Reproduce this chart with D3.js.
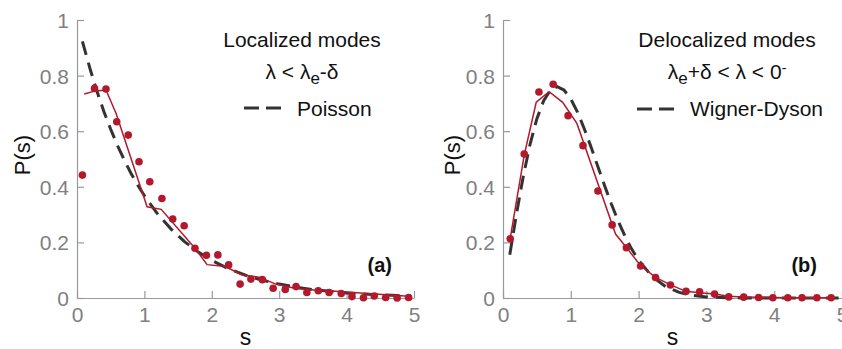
<!DOCTYPE html>
<html>
<head>
<meta charset="utf-8">
<script src="https://cdn.jsdelivr.net/npm/d3@7"></script>
<style>
  body { margin: 0; background: #fff; }
  svg text { font-family: "Liberation Sans", Arial, sans-serif; }
</style>
</head>
<body>
<svg id="chart" width="842" height="349"></svg>
<script>
// ---- data ----
const xTicks = [0, 1, 2, 3, 4, 5];
const yTicks = [0, 0.2, 0.4, 0.6, 0.8, 1];

// (a) localized modes
const locPointS = [0.08, 0.26, 0.43, 0.59, 0.76, 0.92, 1.08, 1.26, 1.42, 1.59, 1.75, 1.92, 2.09, 2.25, 2.42,
  2.58, 2.75, 2.91, 3.09, 3.25, 3.41, 3.58, 3.74, 3.92, 4.08, 4.25, 4.41, 4.58, 4.75, 4.92];
const locPointP = [0.442, 0.754, 0.752, 0.634, 0.586, 0.49, 0.418, 0.358, 0.284, 0.26, 0.179, 0.154, 0.155, 0.119, 0.05,
  0.068, 0.066, 0.035, 0.031, 0.041, 0.02, 0.026, 0.02, 0.016, 0.005, 0.001, 0.007, 0.002, 0, 0.002];
const locLineS = [0.108, 0.27, 0.43, 0.58, 1.04, 1.25, 1.75, 1.93, 2.2, 2.45, 2.7, 2.95, 3.23, 3.56, 3.9, 4.3, 4.7, 4.97];
const locLineP = [0.734, 0.745, 0.748, 0.664, 0.328, 0.319, 0.179, 0.12, 0.113, 0.083, 0.075, 0.05, 0.035, 0.028, 0.023, 0.016, 0.01, 0.005];
const poissonS = [0.08, 0.2, 0.3, 0.4, 0.5, 0.6, 0.7, 0.8, 0.9, 1.0, 1.2, 1.4, 1.6, 1.8, 2.0, 2.25, 2.5, 2.75,
  3.0, 3.25, 3.5, 3.75, 4.0, 4.25, 4.5, 4.75, 4.95];
const poissonP = [0.923, 0.819, 0.741, 0.670, 0.607, 0.549, 0.497, 0.449, 0.407, 0.368, 0.301, 0.247, 0.202, 0.165, 0.135,
  0.105, 0.082, 0.064, 0.050, 0.039, 0.030, 0.024, 0.018, 0.014, 0.011, 0.009, 0.007];

// (b) delocalized modes
const delPointS = [0.107, 0.313, 0.53, 0.74, 0.96, 1.18, 1.40, 1.61, 1.82, 2.03, 2.25, 2.47, 2.70, 2.90, 3.12,
  3.33, 3.55, 3.77, 3.98, 4.20, 4.41, 4.63, 4.84];
const delPointP = [0.213, 0.518, 0.741, 0.769, 0.656, 0.548, 0.385, 0.263, 0.181, 0.115, 0.074, 0.047, 0.024, 0.022, 0.014,
  0.004, 0.003, 0.002, 0.001, 0.001, 0.001, 0.001, 0.001];
const delLineS = [0.107, 0.313, 0.49, 0.68, 0.88, 1.09, 1.66, 1.82, 2.03, 2.25, 2.47, 2.7, 2.9, 3.12, 3.33, 3.55,
  3.76, 3.98, 4.2, 4.41, 4.62, 4.84];
const delLineP = [0.215, 0.514, 0.704, 0.742, 0.704, 0.628, 0.23, 0.182, 0.116, 0.074, 0.047, 0.024, 0.019, 0.014, 0.006, 0.004,
  0.003, 0.002, 0.001, 0.001, 0.001, 0.001];
const wignerS = [0.1, 0.2, 0.3, 0.4, 0.5, 0.6, 0.7, 0.8, 0.9, 1.0, 1.1, 1.2, 1.3, 1.4, 1.5, 1.6, 1.7, 1.8, 1.9, 2.0,
  2.2, 2.4, 2.6, 2.8, 3.0, 3.3, 3.6, 4.0, 4.5, 4.95];
const wignerP = [0.156, 0.304, 0.439, 0.554, 0.645, 0.710, 0.748, 0.760, 0.748, 0.716, 0.668, 0.608, 0.542, 0.472, 0.403,
  0.337, 0.276, 0.222, 0.175, 0.136, 0.077, 0.041, 0.020, 0.009, 0.004, 0.001, 0.0002, 0, 0, 0];

const red = '#b3192b';
const svg = d3.select('#chart');

const panels = [
  {
    x0: 77, x1: 414, tag: '(a)', tagX: 392, cx: 302,
    title: 'Localized modes',
    cond: [['λ < λ', null], ['e', 'sub'], ['-δ', null]],
    legend: 'Poisson', legX: 244, legY: 108,
    ptS: locPointS, ptP: locPointP, lnS: locLineS, lnP: locLineP, thS: poissonS, thP: poissonP,
    labelX: 22
  },
  {
    x0: 503, x1: 842, tag: '(b)', tagX: 817, cx: 727,
    title: 'Delocalized modes',
    cond: [['λ', null], ['e', 'sub'], ['+δ < λ < 0', null], ['-', 'sup']],
    legend: 'Wigner-Dyson', legX: 637, legY: 109,
    ptS: delPointS, ptP: delPointP, lnS: delLineS, lnP: delLineP, thS: wignerS, thP: wignerP,
    labelX: 452
  }
];

const yTop = 20, yBot = 298;

panels.forEach(p => {
  const x = d3.scaleLinear().domain([0, 5]).range([p.x0, p.x1]);
  const y = d3.scaleLinear().domain([0, 1]).range([yBot, yTop]);
  const g = svg.append('g');

  // axes, ticks pointing inward
  const xAxis = g.append('g').attr('transform', `translate(0,${yBot})`)
    .call(d3.axisBottom(x).tickValues(xTicks).tickSizeInner(-7).tickSizeOuter(0).tickFormat(d3.format('d')));
  const yAxis = g.append('g').attr('transform', `translate(${p.x0},0)`)
    .call(d3.axisLeft(y).tickValues(yTicks).tickSizeInner(-7).tickSizeOuter(0).tickPadding(8).tickFormat(d => d === 0 || d === 1 ? d : d3.format('.1f')(d)));
  [xAxis, yAxis].forEach(a => {
    a.select('.domain').attr('stroke', '#999').attr('stroke-width', 1.2);
    a.selectAll('.tick line').attr('stroke', '#999').attr('stroke-width', 1.2);
    a.selectAll('.tick text').attr('fill', '#808080').style('font-size', '21px');
  });
  xAxis.selectAll('.tick text').attr('dy', '0.71em').attr('y', 9);
  yAxis.selectAll('.tick text').attr('dy', '0.36em');

  g.append('text').attr('x', (p.x0 + p.x1) / 2).attr('y', 345).attr('text-anchor', 'middle')
    .style('font-size', '23px').attr('fill', '#111').text('s');
  g.append('text').attr('transform', `translate(${p.labelX},155) rotate(-90)`).attr('text-anchor', 'middle')
    .attr('dy', '0.35em').style('font-size', '22px').attr('fill', '#111').text('P(s)');

  // data
  const line = d3.line().x(d => x(d[0])).y(d => y(d[1]));
  g.append('path').datum(d3.zip(p.thS, p.thP)).attr('d', line)
    .attr('fill', 'none').attr('stroke', '#333').attr('stroke-width', 3).attr('stroke-dasharray', '14,8');
  g.append('path').datum(d3.zip(p.lnS, p.lnP)).attr('d', line)
    .attr('fill', 'none').attr('stroke', red).attr('stroke-width', 1.5);
  g.selectAll('circle').data(d3.zip(p.ptS, p.ptP)).join('circle')
    .attr('cx', d => x(d[0])).attr('cy', d => y(d[1])).attr('r', 3.8).attr('fill', red);

  // legend / annotations
  g.append('text').attr('x', p.cx).attr('y', 47).attr('text-anchor', 'middle')
    .style('font-size', '21px').attr('fill', '#111').text(p.title);
  const c = g.append('text').attr('x', p.cx).attr('y', 79).attr('text-anchor', 'middle')
    .style('font-size', '21px').attr('fill', '#111');
  p.cond.forEach(([t, kind]) => {
    const ts = c.append('tspan').text(t);
    if (kind === 'sub') ts.attr('baseline-shift', '-28%').style('font-size', '17px');
    if (kind === 'sup') ts.attr('baseline-shift', '45%').style('font-size', '14px');
  });
  g.append('line').attr('x1', p.legX).attr('x2', p.legX + 43).attr('y1', p.legY).attr('y2', p.legY)
    .attr('stroke', '#333').attr('stroke-width', 3).attr('stroke-dasharray', '15,7');
  g.append('text').attr('x', p.legX + 53).attr('y', 116)
    .style('font-size', '21px').attr('fill', '#111').text(p.legend);

  g.append('text').attr('x', p.tagX).attr('y', 272).attr('text-anchor', 'end')
    .style('font-size', '20px').style('font-weight', 'bold').attr('fill', '#111').text(p.tag);
});
</script>
</body>
</html>
